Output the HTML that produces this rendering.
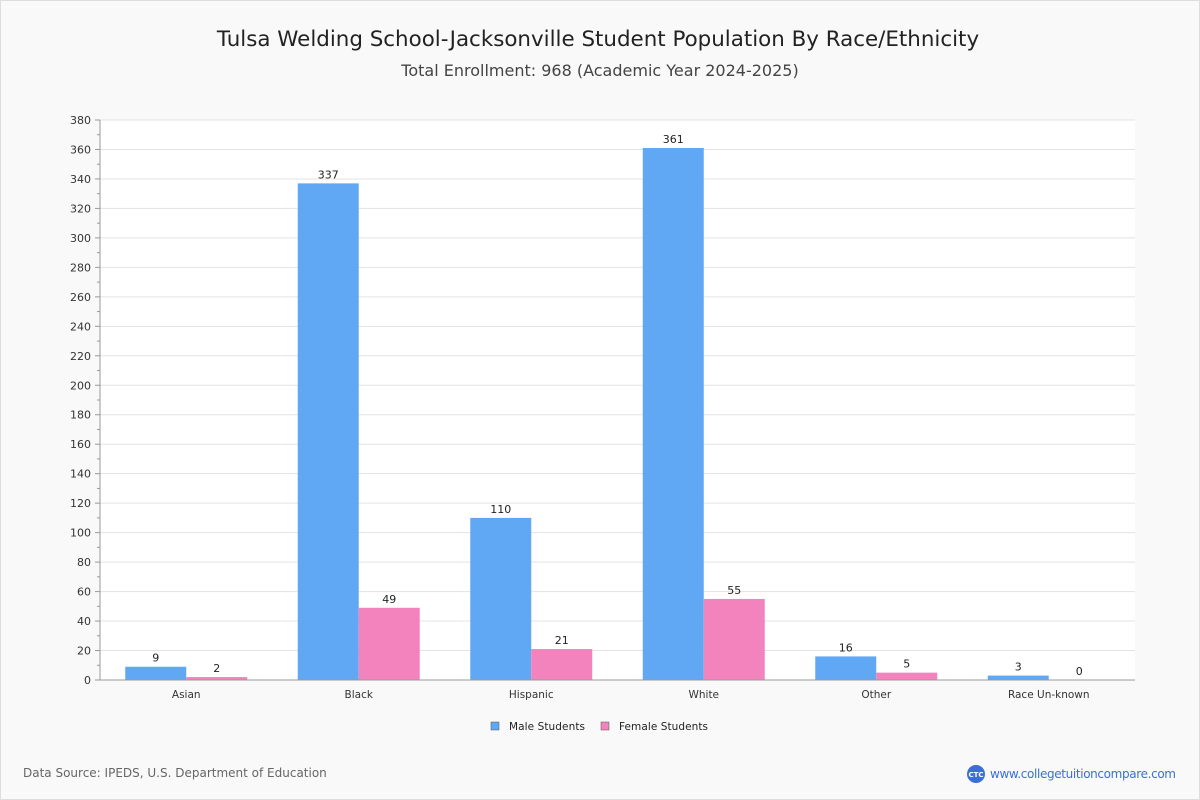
<!DOCTYPE html>
<html><head><meta charset="utf-8"><style>
body{margin:0;background:#fff;font-family:"DejaVu Sans","Liberation Sans",sans-serif;}
#wrap{position:relative;width:1200px;height:800px;background:#f9f9f9;}
svg{position:absolute;left:0;top:0;}
</style></head><body>
<div id="wrap">
<svg id="chart" width="1200" height="800" xmlns="http://www.w3.org/2000/svg">
<rect x="0.5" y="0.5" width="1199" height="799" fill="none" stroke="#ddd"/>
<text x="598" y="46" text-anchor="middle" font-size="21.4" fill="#222">Tulsa Welding School-Jacksonville Student Population By Race/Ethnicity</text>
<text x="600" y="76" text-anchor="middle" font-size="16" fill="#444">Total Enrollment: 968 (Academic Year 2024-2025)</text>
<rect x="100" y="120" width="1035" height="560" fill="#fff"/>
<g id="grid"></g><g id="bars"></g><g id="axes"></g>
<g>
<g><rect x="491" y="722" width="8" height="8" fill="#61a8f4" stroke="#555" stroke-width="0.5"/><text x="509" y="730" font-size="10.5" fill="#222" textLength="76">Male Students</text></g>
<g><rect x="601" y="722" width="8" height="8" fill="#f283bc" stroke="#555" stroke-width="0.5"/><text x="619" y="730" font-size="10.5" fill="#222" textLength="89">Female Students</text></g>
</g>
<text x="23" y="777" font-size="12" fill="#666">Data Source: IPEDS, U.S. Department of Education</text>
<g><circle cx="976" cy="774" r="9" fill="#3a6fd8"/><text x="976" y="777" text-anchor="middle" font-size="7" fill="#fff" font-weight="bold">CTC</text>
<text x="990" y="778" font-size="12" fill="#3a6fd8" textLength="186">www.collegetuitioncompare.com</text></g>
</svg></div>
<script>
const categories=["Asian","Black","Hispanic","White","Other","Race Un-known"];
const maleValues=[9,337,110,361,16,3];
const femaleValues=[2,49,21,55,5,0];
const yTicks=[0,20,40,60,80,100,120,140,160,180,200,220,240,260,280,300,320,340,360,380];
const NS="http://www.w3.org/2000/svg";
const X0=100,W=1035,Y0=680,H=560,YMAX=380;
const y=v=>Y0-v/YMAX*H;
const band=W/categories.length;
const xc=i=>X0+band*(i+0.5);
function mk(t,a,p){const e=document.createElementNS(NS,t);for(const k in a)e.setAttribute(k,a[k]);p.appendChild(e);return e;}
const grid=document.getElementById('grid'),bars=document.getElementById('bars'),axes=document.getElementById('axes');
yTicks.forEach(v=>{
 const l=mk('line',{x1:X0,x2:X0+W,y1:y(v),y2:y(v),stroke:'#e3e3e3'},grid);
 
 
 const t=mk('text',{x:X0-9,y:y(v)+4,'text-anchor':'end','font-size':11,fill:'#333'},axes);
 t.textContent=v;
 
 
 mk('line',{x1:X0-5,x2:X0,y1:y(v),y2:y(v),stroke:'#999'},axes);
 if(v<YMAX) mk('line',{x1:X0-3,x2:X0,y1:y(v+10),y2:y(v+10),stroke:'#999'},axes);
});
mk('line',{x1:X0,x2:X0,y1:120,y2:Y0,stroke:'#999'},axes);
mk('line',{x1:X0,x2:X0+W,y1:Y0,y2:Y0,stroke:'#999'},axes);
const bw=61;
categories.forEach((c,i)=>{
 const t=mk('text',{x:xc(i),y:698,'text-anchor':'middle','font-size':10.5,fill:'#333'},axes);
 t.textContent=c;
 
 
 [[maleValues[i],'#61a8f4',-bw,'male'],[femaleValues[i],'#f283bc',0,'female']].forEach(([v,col,off,nm])=>{
  const r=mk('rect',{x:xc(i)+off,y:y(v),width:bw,height:Y0-y(v),fill:col},bars);
  
  
  const lb=mk('text',{x:xc(i)+off+bw/2,y:y(v)-5,'text-anchor':'middle','font-size':11,fill:'#222'},bars);
  lb.textContent=v;
  
  
 });
});
</script>
</body></html>
